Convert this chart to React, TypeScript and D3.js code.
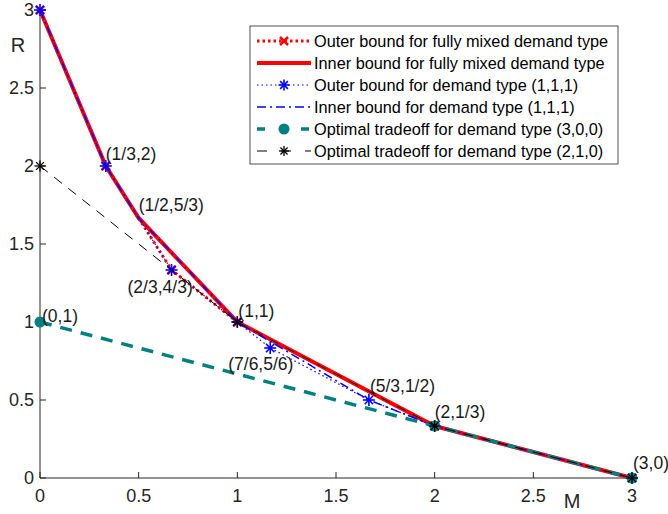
import * as d3 from "d3";

const outerMixed = [[0, 3], [1 / 3, 2], [2 / 3, 4 / 3], [1, 1], [2, 1 / 3], [3, 0]];
const innerMixed = [[0, 3], [1 / 3, 2], [1 / 2, 5 / 3], [1, 1], [2, 1 / 3], [3, 0]];
const outer111 = [[0, 3], [1 / 3, 2], [2 / 3, 4 / 3], [1, 1], [7 / 6, 5 / 6], [5 / 3, 1 / 2], [2, 1 / 3], [3, 0]];
const inner111 = [[0, 3], [1 / 3, 2], [1 / 2, 5 / 3], [1, 1], [5 / 3, 1 / 2], [2, 1 / 3], [3, 0]];
const opt300 = [[0, 1], [2, 1 / 3], [3, 0]];
const opt210 = [[0, 2], [1, 1], [2, 1 / 3], [3, 0]];

const pointLabels = [
  { text: "(1/3,2)", x: 1 / 3, y: 2, dx: 0, dy: -6 },
  { text: "(1/2,5/3)", x: 1 / 2, y: 5 / 3, dx: 0, dy: -7 },
  { text: "(2/3,4/3)", x: 2 / 3, y: 4 / 3, dx: -44, dy: 23 },
  { text: "(1,1)", x: 1, y: 1, dx: 1, dy: -5 },
  { text: "(7/6,5/6)", x: 7 / 6, y: 5 / 6, dx: -42, dy: 22 },
  { text: "(5/3,1/2)", x: 5 / 3, y: 1 / 2, dx: 1, dy: -8 },
  { text: "(2,1/3)", x: 2, y: 1 / 3, dx: 0, dy: -8 },
  { text: "(3,0)", x: 3, y: 0, dx: 1, dy: -9 },
  { text: "(0,1)", x: 0, y: 1, dx: 2, dy: 0 },
];

const ticks = [0, 0.5, 1, 1.5, 2, 2.5, 3];

const legendItems = [
  "Outer bound for fully mixed demand type",
  "Inner bound for fully mixed demand type",
  "Outer bound for demand type (1,1,1)",
  "Inner bound for demand type (1,1,1)",
  "Optimal tradeoff for demand type (3,0,0)",
  "Optimal tradeoff for demand type (2,1,0)",
];

const font = "Liberation Sans, Arial, sans-serif";
const axisColor = "#262626";

function Star({ cx, cy, r, color, w }: { cx: number; cy: number; r: number; color: string; w: number }) {
  const d = r * 0.7071;
  return (
    <g stroke={color} strokeWidth={w}>
      <line x1={cx - r} y1={cy} x2={cx + r} y2={cy} />
      <line x1={cx} y1={cy - r} x2={cx} y2={cy + r} />
      <line x1={cx - d} y1={cy - d} x2={cx + d} y2={cy + d} />
      <line x1={cx - d} y1={cy + d} x2={cx + d} y2={cy - d} />
    </g>
  );
}

function Cross({ cx, cy, r, color }: { cx: number; cy: number; r: number; color: string }) {
  return (
    <g stroke={color} strokeWidth={2.5}>
      <line x1={cx - r} y1={cy - r} x2={cx + r} y2={cy + r} />
      <line x1={cx - r} y1={cy + r} x2={cx + r} y2={cy - r} />
    </g>
  );
}

export default function App() {
  const x = d3.scaleLinear().domain([0, 3]).range([40, 632]);
  const y = d3.scaleLinear().domain([0, 3]).range([478, 10]);
  const line = d3
    .line<number[]>()
    .x((d) => x(d[0]))
    .y((d) => y(d[1]));

  const legX = 250;
  const legY = 26;
  const rowH = 22;

  return (
    <svg width={668} height={514} style={{ position: "absolute", left: 0, top: 0 }} fontFamily={font}>
      <rect width={668} height={514} fill="#fff" />
      {/* axes */}
      <g stroke={axisColor} strokeWidth={1}>
        <line x1={x(0)} y1={y(0)} x2={x(3)} y2={y(0)} />
        <line x1={x(0)} y1={y(0)} x2={x(0)} y2={y(3)} />
        {ticks.map((t) => (
          <line key={"xt" + t} x1={x(t)} x2={x(t)} y1={y(0)} y2={y(0) - 6} />
        ))}
        {ticks.map((t) => (
          <line key={"yt" + t} x1={x(0)} x2={x(0) + 6} y1={y(t)} y2={y(t)} />
        ))}
      </g>
      <g fill={axisColor} fontSize={18}>
        {ticks.map((t) => (
          <text key={"xl" + t} x={x(t)} y={y(0) + 24} textAnchor="middle">
            {t}
          </text>
        ))}
        {ticks.map((t) => (
          <text key={"yl" + t} x={x(0) - 6} y={y(t) + 6} textAnchor="end">
            {t}
          </text>
        ))}
        <text x={18} y={52} fontSize={20} textAnchor="middle">R</text>
        <text x={572} y={508} fontSize={20} textAnchor="middle">M</text>
      </g>

      {/* series */}
      <path d={line(outerMixed as any) || ""} fill="none" stroke="#ff0000" strokeWidth={3} strokeDasharray="2.5 3" />
      {outerMixed.map((p, i) => (
        <Cross key={"om" + i} cx={x(p[0])} cy={y(p[1])} r={4} color="#ff0000" />
      ))}
      <path d={line(innerMixed as any) || ""} fill="none" stroke="#ff0000" strokeWidth={4} />
      <path d={line(outer111 as any) || ""} fill="none" stroke="#0000ff" strokeWidth={1.2} strokeDasharray="1.5 3" />
      {outer111.map((p, i) => (
        <Star key={"ob" + i} cx={x(p[0])} cy={y(p[1])} r={6} color="#0000ff" w={1.6} />
      ))}
      <path d={line(inner111 as any) || ""} fill="none" stroke="#0000ff" strokeWidth={1.5} strokeDasharray="9 4 2 4" />
      <path d={line(opt300 as any) || ""} fill="none" stroke="#008080" strokeWidth={3.5} strokeDasharray="12 9" />
      {opt300.map((p, i) => (
        <circle key={"t" + i} cx={x(p[0])} cy={y(p[1])} r={5.5} fill="#008080" />
      ))}
      <path d={line(opt210 as any) || ""} fill="none" stroke="#000" strokeWidth={1} strokeDasharray="10 8" />
      {opt210.map((p, i) => (
        <Star key={"k" + i} cx={x(p[0])} cy={y(p[1])} r={5.5} color="#000" w={1.3} />
      ))}

      {/* point labels */}
      <g fill="#1a1a1a" fontSize={17.5}>
        {pointLabels.map((l) => (
          <text key={l.text} x={x(l.x) + l.dx} y={y(l.y) + l.dy}>
            {l.text}
          </text>
        ))}
      </g>

      {/* legend */}
      <rect x={legX} y={legY} width={368} height={138} fill="#fff" stroke="#262626" strokeWidth={0.8} />
      {legendItems.map((name, i) => {
        const cy = legY + 15 + i * rowH;
        const x1 = legX + 7;
        const x2 = legX + 61;
        const mx = (x1 + x2) / 2;
        return (
          <g key={name}>
            {i === 0 && (
              <g>
                <line x1={x1} x2={x2} y1={cy} y2={cy} stroke="#ff0000" strokeWidth={3} strokeDasharray="2.5 3" />
                <Cross cx={mx} cy={cy} r={4} color="#ff0000" />
              </g>
            )}
            {i === 1 && <line x1={x1} x2={x2} y1={cy} y2={cy} stroke="#ff0000" strokeWidth={4} />}
            {i === 2 && (
              <g>
                <line x1={x1} x2={x2} y1={cy} y2={cy} stroke="#0000ff" strokeWidth={1.2} strokeDasharray="1.5 3" />
                <Star cx={mx} cy={cy} r={5.5} color="#0000ff" w={1.6} />
              </g>
            )}
            {i === 3 && <line x1={x1} x2={x2} y1={cy} y2={cy} stroke="#0000ff" strokeWidth={1.5} strokeDasharray="9 4 2 4" />}
            {i === 4 && (
              <g>
                <line x1={x1} x2={x2} y1={cy} y2={cy} stroke="#008080" strokeWidth={3.5} strokeDasharray="8 14" />
                <circle cx={mx} cy={cy} r={5.5} fill="#008080" />
              </g>
            )}
            {i === 5 && (
              <g>
                <line x1={x1} x2={x2} y1={cy} y2={cy} stroke="#000" strokeWidth={1} strokeDasharray="10 14" />
                <Star cx={mx} cy={cy} r={5} color="#000" w={1.3} />
              </g>
            )}
            <text x={legX + 64} y={cy + 6} fontSize={16.3} fill="#000">
              {name}
            </text>
          </g>
        );
      })}
    </svg>
  );
}
